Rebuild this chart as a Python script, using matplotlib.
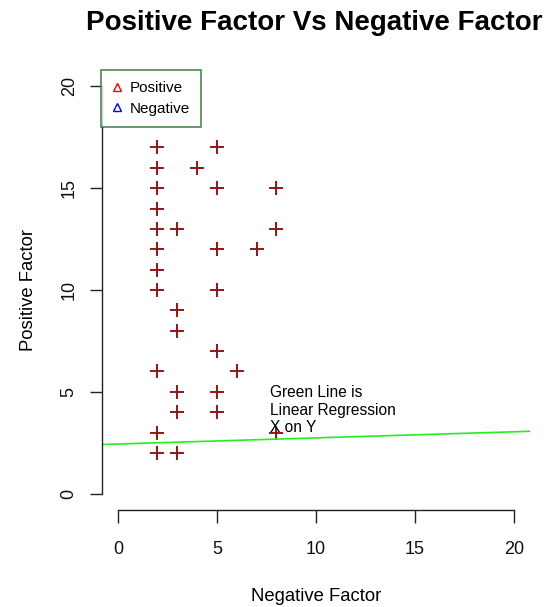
import numpy as np
import matplotlib.pyplot as plt

plt.rcParams['font.family'] = ['Liberation Sans', 'DejaVu Sans']

# data
neg_factor = [2, 2, 2, 2, 2, 2, 2, 2, 2, 2, 2,
              3, 3, 3, 3, 3, 3,
              4,
              5, 5, 5, 5, 5, 5, 5,
              6, 7,
              8, 8, 8]
pos_factor = [17, 16, 15, 14, 13, 12, 11, 10, 6, 3, 2,
              13, 9, 8, 5, 4, 2,
              16,
              17, 15, 12, 10, 7, 5, 4,
              6, 12,
              15, 13, 3]
reg_intercept = 2.44
reg_slope = 0.03
x_ticks = [0, 5, 10, 15, 20]
y_ticks = [0, 5, 10, 15, 20]

W, H = 549, 607
fig = plt.figure(figsize=(W / 100, H / 100), dpi=100)
ax = fig.add_axes([102 / W, (H - 510) / H, (530 - 102) / W, (510 - 70) / H])

ax.plot(neg_factor, pos_factor, linestyle='none', marker='+', markersize=10,
        markeredgewidth=1.4, color='#951515')
ax.axline((0, reg_intercept), slope=reg_slope, color='#22f022', linewidth=1.2)

ax.set_xlim(-0.8, 20.8)
ax.set_ylim(-0.8, 20.8)
ax.set_xticks(x_ticks)
ax.set_yticks(y_ticks)
ax.set_yticklabels([str(t) for t in y_ticks], rotation=90, va='center')
for s in ['top', 'right']:
    ax.spines[s].set_visible(False)
ax.spines['left'].set_bounds(0, 20)
ax.spines['bottom'].set_bounds(0, 20)
for s in ['left', 'bottom']:
    ax.spines[s].set_color('#222222')
    ax.spines[s].set_linewidth(1.0)
ax.tick_params(direction='out', length=9, width=1.0, color='#222222',
               labelsize=13, labelcolor='#111111')
ax.tick_params(axis='x', pad=13)
ax.tick_params(axis='y', pad=8.5)

ax.set_xlabel('Negative Factor', fontsize=13.3, labelpad=22)
ax.set_ylabel('Positive Factor', fontsize=13.3, labelpad=17)
fig.text(314 / W, 1 - 23 / H, 'Positive Factor Vs Negative Factor',
         fontsize=20, fontweight='bold', ha='center', va='center')

ax.text(7.7, 4.1, 'Green Line is\nLinear Regression\nX on Y', fontsize=11.2,
        ha='left', va='center', linespacing=1.2)

h1, = ax.plot([], [], linestyle='none', marker='^', markersize=5.5,
              markerfacecolor='none', markeredgecolor='red')
h2, = ax.plot([], [], linestyle='none', marker='^', markersize=5.5,
              markerfacecolor='none', markeredgecolor='blue')
leg = ax.legend([h1, h2], ['Positive', 'Negative'], loc='upper left',
                bbox_to_anchor=(-0.002, 1.0), fontsize=11, frameon=True,
                fancybox=False, handlelength=0.6, handletextpad=0.5,
                borderpad=0.75, labelspacing=0.4, borderaxespad=0)
leg.get_frame().set_edgecolor('#1f6b1f')
leg.get_frame().set_linewidth(1.2)

fig.savefig('out.png', dpi=100)
